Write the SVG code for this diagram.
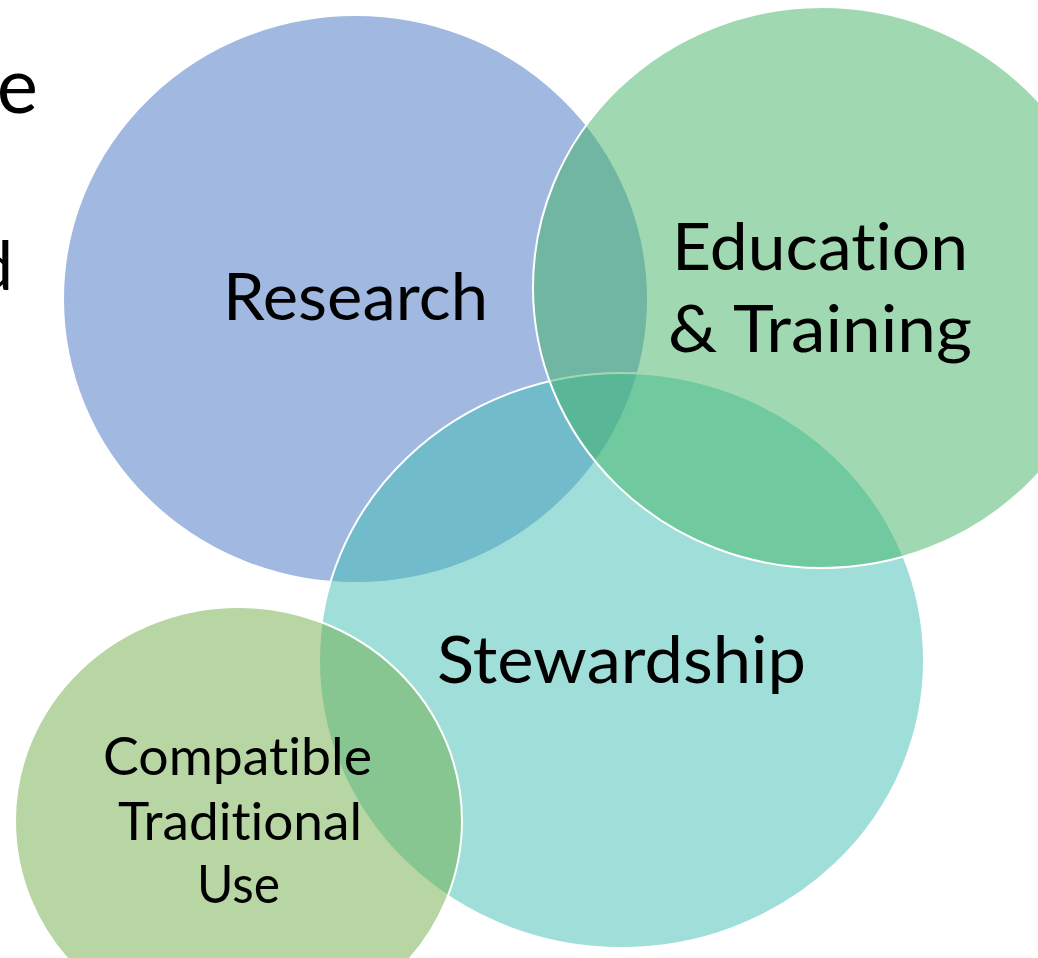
<svg xmlns="http://www.w3.org/2000/svg" width="1038" height="958" viewBox="0 0 1038 958">
  <style>
    .c { fill-opacity: 0.5; stroke: #FFFFFF; stroke-width: 2; }
    text { font-variant-ligatures: none; font-feature-settings: "liga" 0, "clig" 0; }
    .t { font-family: Lato, "Open Sans", "Liberation Sans", sans-serif; fill: #000000; text-anchor: middle; }
    .big { font-size: 65px; }
    .small { font-size: 52px; }
    .edge { font-family: Lato, "Open Sans", "Liberation Sans", sans-serif; fill: #000000; text-anchor: end; }
  </style>
  <rect x="0" y="0" width="1038" height="958" fill="#FFFFFF"/>
  <g id="cropped-text">
    <text class="edge" x="38" y="113" font-size="78">e</text>
    <text class="edge" x="13" y="290" font-size="67">d</text>
  </g>
  <g id="research">
    <ellipse class="c" cx="355.5" cy="299" rx="292.5" ry="284" fill="#4472C4"/>
    <text class="t big" x="355.5" y="320" textLength="265" lengthAdjust="spacingAndGlyphs">Research</text>
  </g>
  <g id="stewardship">
    <ellipse class="c" cx="621.5" cy="660.5" rx="302.5" ry="287.5" fill="#41BDB5"/>
    <text class="t big" x="621.5" y="683" textLength="369" lengthAdjust="spacingAndGlyphs">Stewardship</text>
  </g>
  <g id="education-training">
    <ellipse class="c" cx="822" cy="287.5" rx="289" ry="280.5" fill="#41B363"/>
    <text class="t big" x="820" y="270" textLength="296" lengthAdjust="spacingAndGlyphs">Education</text>
    <text class="t big" x="820" y="352" textLength="304" lengthAdjust="spacingAndGlyphs">&amp; Training</text>
  </g>
  <g id="compatible-traditional-use">
    <ellipse class="c" cx="238.5" cy="821" rx="223.5" ry="214" fill="#70AD47"/>
    <text class="t small" x="237.5" y="775" textLength="269" lengthAdjust="spacingAndGlyphs">Compatible</text>
    <text class="t small" x="240" y="840" textLength="244" lengthAdjust="spacingAndGlyphs">Traditional</text>
    <text class="t small" x="238.5" y="903" textLength="83" lengthAdjust="spacingAndGlyphs">Use</text>
  </g>
</svg>
